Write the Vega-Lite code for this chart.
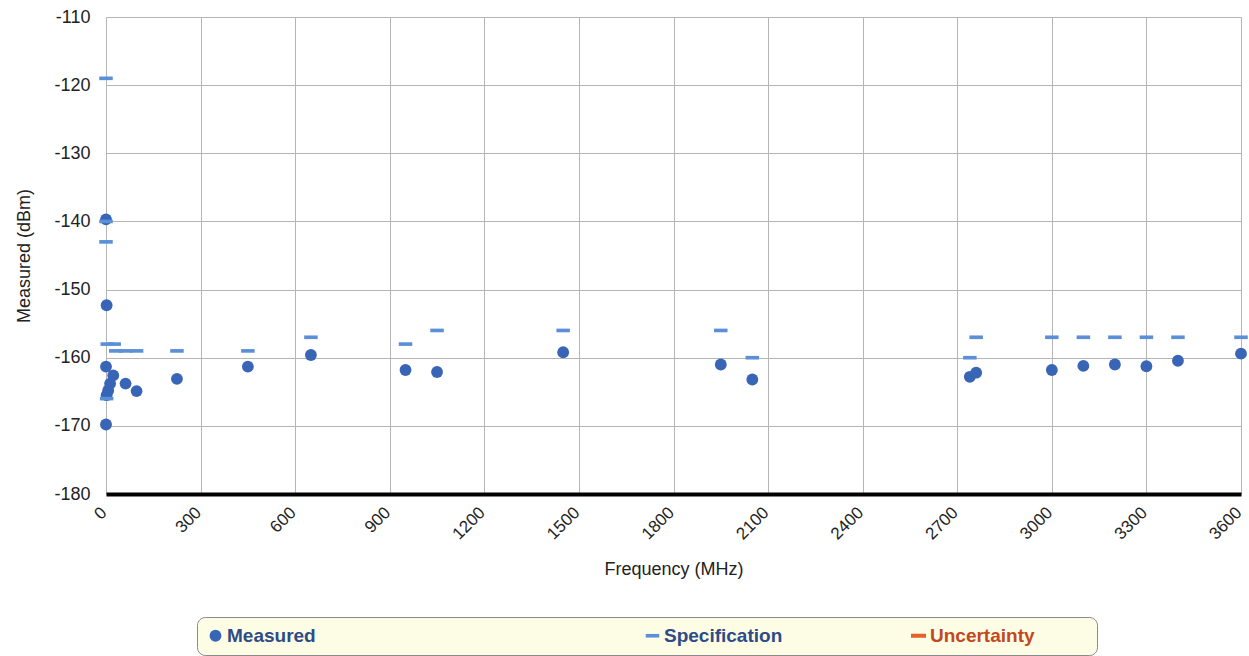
{
  "$schema": "https://vega.github.io/schema/vega-lite/v6.json",
  "width": 1135,
  "height": 477,
  "autosize": {"type": "none"},
  "padding": {"left": 106, "top": 17, "right": 8, "bottom": 162},
  "background": "white",
  "config": {
    "view": {"stroke": null},
    "font": "Liberation Sans",
    "axis": {
      "gridColor": "#b5b5b5",
      "gridWidth": 1,
      "gridOpacity": 1,
      "ticks": false,
      "labelFont": "Liberation Sans",
      "labelFontSize": 18,
      "labelColor": "#222222",
      "titleFont": "Liberation Sans",
      "titleFontSize": 18,
      "titleFontWeight": "normal",
      "titleColor": "#222222"
    }
  },
  "data": {
    "values": [
      {"f": 0, "v": -139.7, "s": "Measured"},
      {"f": 2, "v": -152.3, "s": "Measured"},
      {"f": 0, "v": -161.3, "s": "Measured"},
      {"f": 0, "v": -169.8, "s": "Measured"},
      {"f": 2, "v": -165.5, "s": "Measured"},
      {"f": 7, "v": -164.8, "s": "Measured"},
      {"f": 13, "v": -163.8, "s": "Measured"},
      {"f": 23, "v": -162.6, "s": "Measured"},
      {"f": 62, "v": -163.8, "s": "Measured"},
      {"f": 97, "v": -164.9, "s": "Measured"},
      {"f": 225, "v": -163.1, "s": "Measured"},
      {"f": 450, "v": -161.3, "s": "Measured"},
      {"f": 650, "v": -159.6, "s": "Measured"},
      {"f": 950, "v": -161.8, "s": "Measured"},
      {"f": 1050, "v": -162.1, "s": "Measured"},
      {"f": 1450, "v": -159.2, "s": "Measured"},
      {"f": 1950, "v": -161.0, "s": "Measured"},
      {"f": 2050, "v": -163.2, "s": "Measured"},
      {"f": 2740, "v": -162.8, "s": "Measured"},
      {"f": 2760, "v": -162.2, "s": "Measured"},
      {"f": 3000, "v": -161.8, "s": "Measured"},
      {"f": 3100, "v": -161.2, "s": "Measured"},
      {"f": 3200, "v": -161.0, "s": "Measured"},
      {"f": 3300, "v": -161.25, "s": "Measured"},
      {"f": 3400, "v": -160.45, "s": "Measured"},
      {"f": 3600, "v": -159.4, "s": "Measured"},
      {"f": 0, "v": -119, "s": "Specification"},
      {"f": 0, "v": -140, "s": "Specification"},
      {"f": 0, "v": -143, "s": "Specification"},
      {"f": 4, "v": -158, "s": "Specification"},
      {"f": 26, "v": -158, "s": "Specification"},
      {"f": 2, "v": -166, "s": "Specification"},
      {"f": 31, "v": -159, "s": "Specification"},
      {"f": 62, "v": -159, "s": "Specification"},
      {"f": 97, "v": -159, "s": "Specification"},
      {"f": 225, "v": -159, "s": "Specification"},
      {"f": 450, "v": -159, "s": "Specification"},
      {"f": 650, "v": -157, "s": "Specification"},
      {"f": 950, "v": -158, "s": "Specification"},
      {"f": 1050, "v": -156, "s": "Specification"},
      {"f": 1450, "v": -156, "s": "Specification"},
      {"f": 1950, "v": -156, "s": "Specification"},
      {"f": 2050, "v": -160, "s": "Specification"},
      {"f": 2740, "v": -160, "s": "Specification"},
      {"f": 2760, "v": -157, "s": "Specification"},
      {"f": 3000, "v": -157, "s": "Specification"},
      {"f": 3100, "v": -157, "s": "Specification"},
      {"f": 3200, "v": -157, "s": "Specification"},
      {"f": 3300, "v": -157, "s": "Specification"},
      {"f": 3400, "v": -157, "s": "Specification"},
      {"f": 3600, "v": -157, "s": "Specification"}
    ]
  },
  "mark": {"type": "point", "filled": true, "opacity": 1, "clip": false},
  "encoding": {
    "x": {
      "field": "f",
      "type": "quantitative",
      "scale": {"domain": [0, 3600], "nice": false, "zero": false},
      "axis": {
        "title": "Frequency (MHz)",
        "values": [0, 300, 600, 900, 1200, 1500, 1800, 2100, 2400, 2700, 3000, 3300, 3600],
        "labelExpr": "toString(datum.value)",
        "labelAngle": -45,
        "labelAlign": "right",
        "labelBaseline": "top",
        "labelOffset": -8,
        "labelPadding": 10,
        "labelFontSize": 17,
        "labelBound": false,
        "titlePadding": 18,
        "domain": true,
        "domainColor": "#000000",
        "domainWidth": 4
      }
    },
    "y": {
      "field": "v",
      "type": "quantitative",
      "scale": {"domain": [-180, -110], "nice": false, "zero": false},
      "axis": {
        "title": "Measured (dBm)",
        "values": [-180, -170, -160, -150, -140, -130, -120, -110],
        "labelExpr": "toString(datum.value)",
        "domain": false,
        "labelPadding": 16,
        "titlePadding": 20
      }
    },
    "color": {
      "field": "s",
      "type": "nominal",
      "scale": {
        "domain": ["Measured", "Specification", "Uncertainty"],
        "range": ["#3865b6", "#5b8fd7", "#e4612c"]
      },
      "legend": {
        "title": null,
        "orient": "none",
        "legendX": 91,
        "legendY": 600,
        "direction": "horizontal",
        "columns": 3,
        "columnPadding": 0,
        "padding": 9,
        "fillColor": "#fdfde6",
        "strokeColor": "#8a8a8a",
        "cornerRadius": 8,
        "symbolSize": 480,
        "symbolOpacity": 1,
        "labelFont": "Liberation Sans",
        "labelFontSize": 19,
        "labelFontWeight": "bold",
        "labelOffset": 2,
        "labelLimit": 2000,
        "labelExpr": "datum.label === 'Measured' ? pad('Measured', 70) + '\u200b' : datum.label === 'Specification' ? pad('Specification', 37) + '\u200b' : pad('Uncertainty', 21) + '\u200b'",
        "encode": {
          "symbols": {
            "update": {
              "size": {"signal": "datum.value === 'Measured' ? 80 : 480"}
            }
          },
          "labels": {
            "update": {
              "fill": {"signal": "datum.value === 'Uncertainty' ? '#c4481d' : '#2e4b88'"}
            }
          }
        }
      }
    },
    "shape": {
      "field": "s",
      "type": "nominal",
      "scale": {
        "domain": ["Measured", "Specification", "Uncertainty"],
        "range": ["circle", "M-1,-0.27H1V0.27H-1Z", "M-1,-0.27H1V0.27H-1Z"]
      }
    },
    "size": {
      "field": "s",
      "type": "nominal",
      "scale": {
        "domain": ["Measured", "Specification", "Uncertainty"],
        "range": [140, 225, 225]
      },
      "legend": null
    }
  }
}
